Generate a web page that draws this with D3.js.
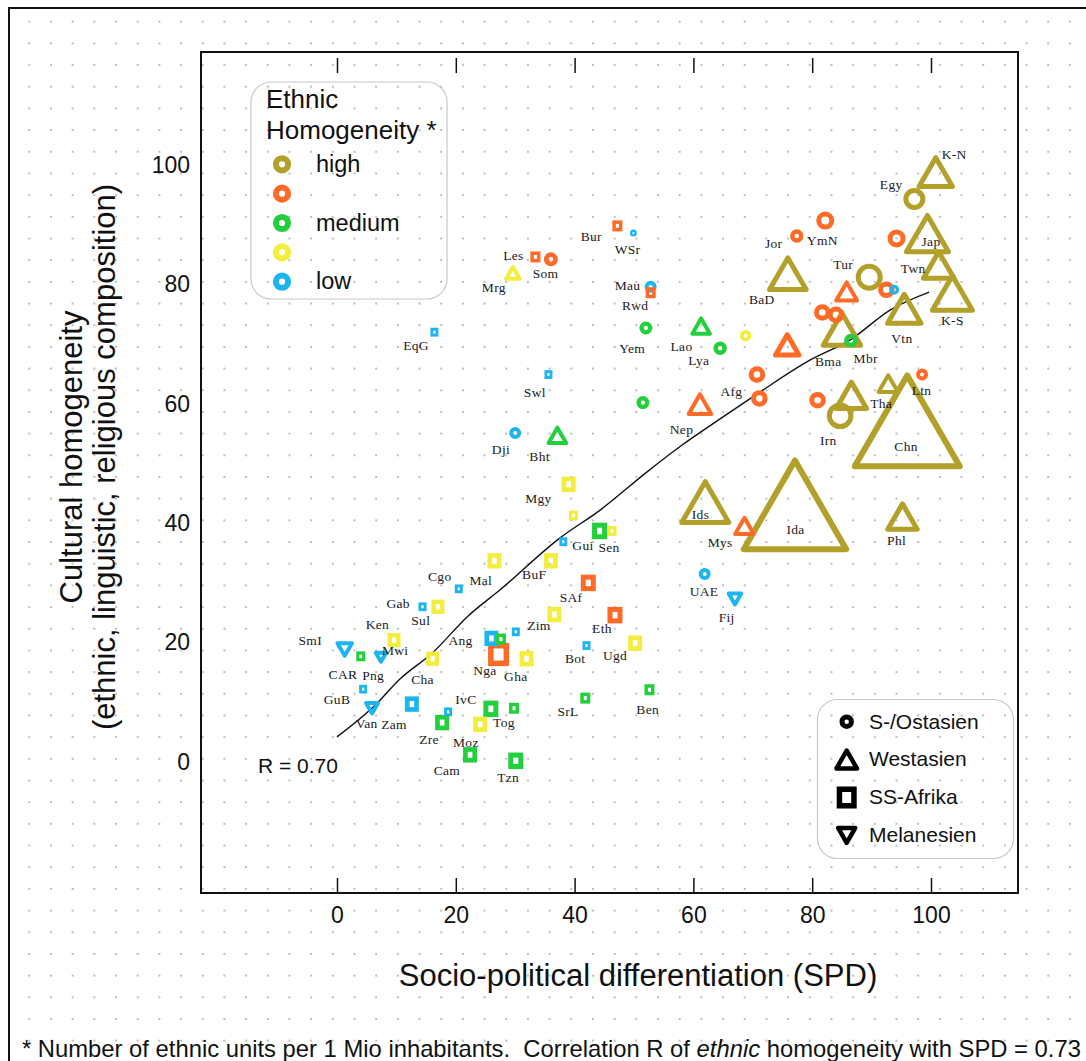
<!DOCTYPE html>
<html>
<head>
<meta charset="utf-8">
<script src="https://cdn.jsdelivr.net/npm/d3@7"></script>
<style>
  html, body { margin: 0; padding: 0; background: #fff; }
  svg { display: block; }
  .sans { font-family: "Liberation Sans", Arial, Helvetica, sans-serif; }
  .serif { font-family: "Liberation Serif", "Times New Roman", serif; }
</style>
</head>
<body>
<svg id="chart" width="1086" height="1061"></svg>
<script>
// ---- categories -------------------------------------------------------
const homogeneityLevels = ["high", "", "medium", "", "low"];
const levelColors = ["#b3a02a", "#ff6a26", "#22cf3c", "#f3ee3e", "#1cb5f2"];
const regionNames = ["S-/Ostasien", "Westasien", "SS-Afrika", "Melanesien"];
const regionShapes = ["circle", "triangle", "square", "triangleDown"];

// ---- societies: [code, homogeneity level, SPD, cultural homogeneity, marker cex]
const eastAsia = [
  ["WSr", 4, 49.9, 88.6, 0.35], ["Som", 1, 36.0, 84.2, 0.70], ["Mau", 4, 52.8, 79.6, 0.60],
  ["Yem", 2, 52.0, 72.7, 0.65], ["", 2, 51.5, 60.2, 0.65], ["Dji", 4, 30.0, 55.1, 0.60],
  ["Egy", 0, 97.2, 94.3, 1.10], ["YmN", 1, 82.2, 90.7, 0.90], ["Jor", 1, 77.4, 88.1, 0.67],
  ["", 1, 94.2, 87.7, 0.90], ["Tur", 0, 89.6, 81.2, 1.35], ["", 1, 92.5, 79.1, 0.83],
  ["", 4, 93.8, 79.1, 0.50], ["", 1, 81.7, 75.3, 0.83], ["", 1, 84.0, 74.9, 0.83],
  ["Mbr", 2, 86.5, 70.6, 0.67], ["", 3, 68.8, 71.4, 0.58], ["Lya", 2, 64.5, 69.3, 0.67],
  ["Afg", 1, 70.7, 64.9, 0.83], ["", 1, 71.1, 60.9, 0.83], ["", 1, 80.9, 60.6, 0.83],
  ["Irn", 0, 84.7, 58.0, 1.33], ["Ltn", 1, 98.5, 64.9, 0.60], ["UAE", 4, 61.9, 31.5, 0.60]
];
const westAsia = [
  ["K-N", 0, 100.8, 98.0, 1.92], ["Jap", 0, 99.4, 87.5, 2.35], ["Twn", 0, 101.3, 82.5, 1.78],
  ["K-S", 0, 103.6, 77.6, 2.25], ["BaD", 0, 75.9, 80.9, 2.08], ["", 1, 85.8, 78.3, 1.25],
  ["Bma", 0, 85.0, 71.6, 2.12], ["Vtn", 0, 95.5, 75.1, 1.92], ["Lao", 2, 61.3, 72.6, 1.08],
  ["", 1, 75.8, 69.3, 1.42], ["Nep", 1, 61.1, 59.4, 1.33], ["Tha", 0, 86.6, 60.7, 1.77],
  ["", 0, 92.8, 62.9, 1.17], ["Chn", 0, 96.0, 54.6, 5.55], ["Ids", 0, 62.0, 42.4, 2.60],
  ["Mys", 1, 68.6, 39.1, 1.13], ["Ida", 0, 77.1, 40.6, 5.42], ["Phl", 0, 95.2, 40.4, 1.72],
  ["Mrg", 3, 29.6, 81.6, 0.88], ["Bht", 2, 37.1, 54.3, 1.08]
];
const subSaharanAfrica = [
  ["Bur", 1, 47.2, 89.8, 0.50], ["Les", 1, 33.4, 84.6, 0.50], ["Rwd", 1, 52.8, 78.6, 0.50],
  ["EqG", 4, 16.4, 72.0, 0.40], ["Swl", 4, 35.6, 64.9, 0.40], ["Mgy", 3, 39.0, 46.5, 0.70],
  ["", 3, 39.8, 41.3, 0.45], ["Sen", 2, 44.2, 38.7, 0.75], ["", 3, 46.3, 38.7, 0.45],
  ["Gui", 4, 38.1, 36.9, 0.40], ["Mal", 3, 26.5, 33.7, 0.70], ["BuF", 3, 36.0, 33.7, 0.70],
  ["Cgo", 4, 20.5, 29.0, 0.40], ["SAf", 1, 42.3, 30.0, 0.75], ["Gab", 4, 14.4, 26.0, 0.40],
  ["Sul", 3, 17.0, 26.0, 0.65], ["Zim", 3, 36.6, 24.7, 0.70], ["Eth", 1, 46.8, 24.6, 0.75],
  ["", 4, 30.1, 21.8, 0.40], ["Bot", 4, 42.0, 19.5, 0.40], ["Ugd", 3, 50.2, 19.9, 0.70],
  ["Mwi", 3, 9.6, 20.4, 0.65], ["Ang", 4, 26.0, 20.7, 0.70], ["", 2, 27.6, 20.6, 0.50],
  ["Nga", 1, 27.2, 18.0, 1.05], ["Gha", 3, 31.9, 17.3, 0.70], ["CAR", 2, 4.0, 17.7, 0.45],
  ["Cha", 3, 16.1, 17.3, 0.65], ["GuB", 4, 4.4, 12.2, 0.40], ["Zam", 4, 12.6, 9.7, 0.70],
  ["IvC", 4, 18.7, 8.4, 0.40], ["Zre", 2, 17.7, 6.6, 0.70], ["", 2, 25.9, 8.9, 0.75],
  ["Tog", 2, 29.8, 9.0, 0.50], ["", 3, 24.1, 6.3, 0.70], ["SrL", 2, 41.8, 10.7, 0.50],
  ["Ben", 2, 52.6, 12.1, 0.50], ["Cam", 2, 22.4, 1.2, 0.70], ["Tzn", 2, 30.1, 0.2, 0.75]
];
const melanesia = [
  ["SmI", 4, 1.3, 19.2, 0.93], ["Png", 4, 7.4, 17.8, 0.72],
  ["Van", 4, 5.9, 9.3, 0.80], ["Fij", 4, 67.0, 27.6, 0.83]
];

// ---- label anchors: [text, SPD, cultural homogeneity]
const labels = [
  ["Bur", 42.8, 88.0], ["WSr", 48.9, 85.8], ["Les", 29.7, 84.9], ["Som", 35.1, 81.9],
  ["Mrg", 26.4, 79.5], ["Mau", 48.9, 79.8], ["Rwd", 50.2, 76.5], ["EqG", 13.3, 69.8],
  ["Yem", 49.7, 69.2], ["Lao", 58.0, 69.6], ["Lya", 60.9, 67.3], ["Swl", 33.3, 61.9],
  ["Nep", 58.0, 55.7], ["Dji", 27.6, 52.4], ["Bht", 34.1, 51.1], ["Mgy", 33.9, 44.2],
  ["Gui", 41.4, 36.3], ["Sen", 45.8, 35.9], ["Cgo", 17.3, 31.0], ["Mal", 24.2, 30.4],
  ["BuF", 33.2, 31.4], ["SAf", 39.4, 27.5], ["Gab", 10.3, 26.5], ["Sul", 14.1, 23.7],
  ["Ken", 6.8, 23.1], ["Zim", 34.0, 22.8], ["Eth", 44.6, 22.3], ["SmI", -4.5, 20.4],
  ["Ang", 20.8, 20.3], ["Mwi", 9.8, 18.6], ["Bot", 40.1, 17.4], ["Ugd", 46.8, 17.8],
  ["Nga", 24.9, 15.4], ["CAR", 1.0, 14.7], ["Png", 6.1, 14.5], ["Gha", 30.1, 14.4],
  ["Cha", 14.4, 13.9], ["GuB", 0.0, 10.4], ["IvC", 21.7, 10.4], ["SrL", 38.9, 8.5],
  ["Ben", 52.3, 8.8], ["Van", 5.0, 6.5], ["Zam", 9.6, 6.3], ["Tog", 28.1, 6.6],
  ["Zre", 15.5, 3.8], ["Moz", 21.7, 3.3], ["Cam", 18.5, -1.5], ["Tzn", 28.8, -2.6],
  ["UAE", 61.8, 28.5], ["Fij", 65.6, 24.2], ["Mys", 64.5, 36.8], ["Ida", 77.2, 39.0],
  ["Ids", 61.2, 41.5], ["Phl", 94.2, 37.1], ["Chn", 95.8, 52.8], ["Irn", 82.7, 53.9],
  ["Tha", 91.6, 60.0], ["Ltn", 98.4, 62.3], ["Afg", 66.4, 62.1], ["Bma", 82.7, 67.1],
  ["Mbr", 89.0, 67.6], ["Vtn", 95.1, 71.0], ["K-S", 103.6, 73.9], ["BaD", 71.5, 77.4],
  ["Tur", 85.2, 83.4], ["Twn", 97.0, 82.6], ["Jor", 73.5, 86.8], ["YmN", 81.7, 87.4],
  ["Jap", 100.0, 87.2], ["Egy", 93.3, 96.8], ["K-N", 103.9, 101.8]
];

// ---- smoothed trend (SPD vs. cultural homogeneity)
const fitSPD = [0, 6.4, 10.6, 16.2, 21.9, 27.4, 37.5, 44.3, 52.2, 57.7, 65.0, 71.7, 79.6, 86.4, 93.1, 99.7];
const fitHom = [4.2, 9.5, 13.9, 18.4, 24.3, 28.8, 37.5, 42.2, 48.6, 52.8, 57.8, 62.3, 67.3, 70.7, 75.7, 78.7];

// ---- ticks and texts
const xTicks = [0, 20, 40, 60, 80, 100];
const yTicks = [0, 20, 40, 60, 80, 100];
const xTitle = "Socio-political differentiation (SPD)";
const yTitle = ["Cultural homogeneity", "(ethnic, linguistic, religious composition)"];
const legendTitle = ["Ethnic", "Homogeneity *"];
const correlationText = "R = 0.70";
const footnoteParts = ["* Number of ethnic units per 1 Mio inhabitants.  Correlation R of ", "ethnic", " homogeneity with SPD = 0.73"];

// =======================================================================
const svg = d3.select("#chart");
const W = 1086, H = 1061;

const x = d3.scaleLinear().domain([0, 100]).range([337, 931]);
const y = d3.scaleLinear().domain([0, 100]).range([762, 165]);
const sizeScale = d3.scaleLinear().domain([0, 1]).range([0, 10]);
const plot = { left: 201, top: 52, right: 1018, bottom: 893 };

// dotted background paper
const defs = svg.append("defs");
const step = 21.68;
const pat = defs.append("pattern").attr("id", "dots")
  .attr("patternUnits", "userSpaceOnUse")
  .attr("x", 28.3).attr("y", 20.7).attr("width", step).attr("height", step);
pat.append("rect").attr("x", 0).attr("y", 0).attr("width", 2).attr("height", 2).attr("fill", "#bdbdbd");

svg.append("rect").attr("x", 9).attr("y", 8).attr("width", W).attr("height", H)
  .attr("fill", "url(#dots)");
svg.append("path").attr("d", `M9,${H} V8 H${W}`)
  .attr("fill", "none").attr("stroke", "#111").attr("stroke-width", 2);

// marker geometry
function strokeFor(shape, ext) {
  if (shape === "circle") return Math.min(5, 0.67 * ext);
  if (shape === "square") return Math.min(5.5, 0.6 * ext + 0.5);
  return ext > 40 ? 6 : ext > 14 ? 5 : 4;
}
function drawMarker(g, shape, cx, cy, ext, color, sw) {
  if (shape === "circle") {
    g.append("circle").attr("cx", cx).attr("cy", cy).attr("r", Math.max(0.5, ext - sw / 2))
      .attr("fill", "none").attr("stroke", color).attr("stroke-width", sw);
  } else if (shape === "square") {
    const hw = ext - sw / 2, hh = ext * 1.1 - sw / 2;
    g.append("rect").attr("x", cx - hw).attr("y", cy - hh)
      .attr("width", 2 * hw).attr("height", 2 * hh)
      .attr("fill", "none").attr("stroke", color).attr("stroke-width", sw);
  } else {
    const w = ext - sw / 2, h = w * Math.sqrt(3);
    const dir = shape === "triangle" ? 1 : -1;
    const pts = [[cx, cy - dir * 2 * h / 3], [cx + w, cy + dir * h / 3], [cx - w, cy + dir * h / 3]];
    g.append("path").attr("d", "M" + pts.map(p => p.join(",")).join("L") + "Z")
      .attr("fill", "none").attr("stroke", color).attr("stroke-width", sw)
      .attr("stroke-linejoin", "round");
  }
}

// plot frame
svg.append("rect").attr("x", plot.left).attr("y", plot.top)
  .attr("width", plot.right - plot.left).attr("height", plot.bottom - plot.top)
  .attr("fill", "none").attr("stroke", "#111").attr("stroke-width", 2);

// axes
const axisFont = g => g.selectAll("text").attr("class", "sans").style("font-size", "23px").attr("fill", "#111");
const xAxis = svg.append("g").attr("transform", `translate(0,${plot.bottom})`)
  .call(d3.axisBottom(x).tickValues(xTicks).tickSizeInner(-15).tickSizeOuter(0).tickPadding(14));
xAxis.select(".domain").remove();
xAxis.selectAll("line").attr("stroke", "#111").attr("stroke-width", 1.5);
xAxis.call(axisFont);

const xTop = svg.append("g").attr("transform", "translate(0,73)")
  .call(d3.axisTop(x).tickValues(xTicks).tickSizeInner(15).tickSizeOuter(0).tickFormat(""));
xTop.select(".domain").remove();
xTop.selectAll("line").attr("stroke", "#111").attr("stroke-width", 1.5);

const yAxis = svg.append("g").attr("transform", `translate(${plot.left},0)`)
  .call(d3.axisLeft(y).tickValues(yTicks).tickSize(0).tickPadding(11));
yAxis.select(".domain").remove();
yAxis.call(axisFont);

// axis titles
svg.append("text").attr("class", "sans").attr("x", 638).attr("y", 986)
  .attr("text-anchor", "middle").style("font-size", "31px").attr("fill", "#111").text(xTitle);
yTitle.forEach((t, i) => {
  svg.append("text").attr("class", "sans")
    .attr("transform", `translate(${82 + i * 33},457) rotate(-90)`)
    .attr("text-anchor", "middle").style("font-size", "31px").attr("fill", "#111").text(t);
});

// trend line
const fitPoints = fitSPD.map((v, i) => [v, fitHom[i]]);
svg.append("path").datum(fitPoints)
  .attr("d", d3.line().x(d => x(d[0])).y(d => y(d[1])).curve(d3.curveMonotoneX))
  .attr("fill", "none").attr("stroke", "#111").attr("stroke-width", 1.4);

// markers (largest first so small ones stay visible)
const allMarkers = [];
[eastAsia, westAsia, subSaharanAfrica, melanesia].forEach((arr, ri) => {
  arr.forEach(d => allMarkers.push({ code: d[0], level: d[1], spd: d[2], hom: d[3], cex: d[4], shape: regionShapes[ri] }));
});
const visualSize = d => sizeScale(d.cex) * (d.shape === "circle" || d.shape === "square" ? 1 : 0.8);
allMarkers.sort((a, b) => visualSize(b) - visualSize(a));
const mg = svg.append("g");
allMarkers.forEach(d => {
  const ext = sizeScale(d.cex);
  drawMarker(mg, d.shape, x(d.spd), y(d.hom), ext, levelColors[d.level], strokeFor(d.shape, ext));
});

// labels
svg.append("g").selectAll("text").data(labels).join("text")
  .attr("class", "serif")
  .attr("x", d => x(d[1])).attr("y", d => y(d[2]))
  .attr("text-anchor", "middle").attr("dominant-baseline", "central")
  .style("font-size", "13.5px").style("letter-spacing", "0.3px").attr("fill", "#1a1a1a")
  .text(d => d[0]);

// correlation note
svg.append("text").attr("class", "sans").attr("x", 258).attr("y", 773)
  .style("font-size", "21px").attr("fill", "#111").text(correlationText);

// legend: ethnic homogeneity
const lg1 = svg.append("g");
lg1.append("rect").attr("x", 251).attr("y", 82).attr("width", 196).attr("height", 217)
  .attr("rx", 20).attr("fill", "none").attr("stroke", "#c8c8c8").attr("stroke-width", 1.2);
legendTitle.forEach((t, i) => {
  lg1.append("text").attr("class", "sans").attr("x", 266).attr("y", 108 + i * 31)
    .style("font-size", "26px").attr("fill", "#111").text(t);
});
homogeneityLevels.forEach((lab, i) => {
  const cy = 164.3 + i * 29.35;
  lg1.append("circle").attr("cx", 282).attr("cy", cy).attr("r", 6.1)
    .attr("fill", "none").attr("stroke", levelColors[i]).attr("stroke-width", 6);
  if (lab) lg1.append("text").attr("class", "sans").attr("x", 316).attr("y", cy + 7.5)
    .style("font-size", "23.5px").attr("fill", "#111").text(lab);
});

// legend: regions
const lg2 = svg.append("g");
lg2.append("rect").attr("x", 817.5).attr("y", 699.5).attr("width", 196).attr("height", 159)
  .attr("rx", 20).attr("fill", "none").attr("stroke", "#c8c8c8").attr("stroke-width", 1.2);
const regionExt = [7.2, 12.5, 10, 10.8];
regionNames.forEach((name, i) => {
  const rowY = 721.7 + i * 37.9;
  const shape = regionShapes[i];
  const ext = regionExt[i];
  // centre triangles on their bounding box rather than their centroid
  const hgt = (ext - 2.25) * Math.sqrt(3);
  const cy = shape === "triangle" ? rowY + hgt / 6 : shape === "triangleDown" ? rowY - hgt / 6 : rowY;
  const sw = shape === "square" ? 5.5 : shape === "circle" ? 5 : 4.5;
  drawMarker(lg2, shape, 846.7, cy, ext, "#000", sw);
  lg2.append("text").attr("class", "sans").attr("x", 869).attr("y", rowY + 6.8)
    .style("font-size", "21px").attr("fill", "#111").text(name);
});

// footnote
const foot = svg.append("text").attr("class", "sans").attr("x", 22).attr("y", 1057)
  .style("font-size", "23.8px").style("white-space", "pre").attr("fill", "#111");
footnoteParts.forEach((p, i) => {
  foot.append("tspan").style("font-style", i === 1 ? "italic" : "normal").text(p);
});
</script>
</body>
</html>
